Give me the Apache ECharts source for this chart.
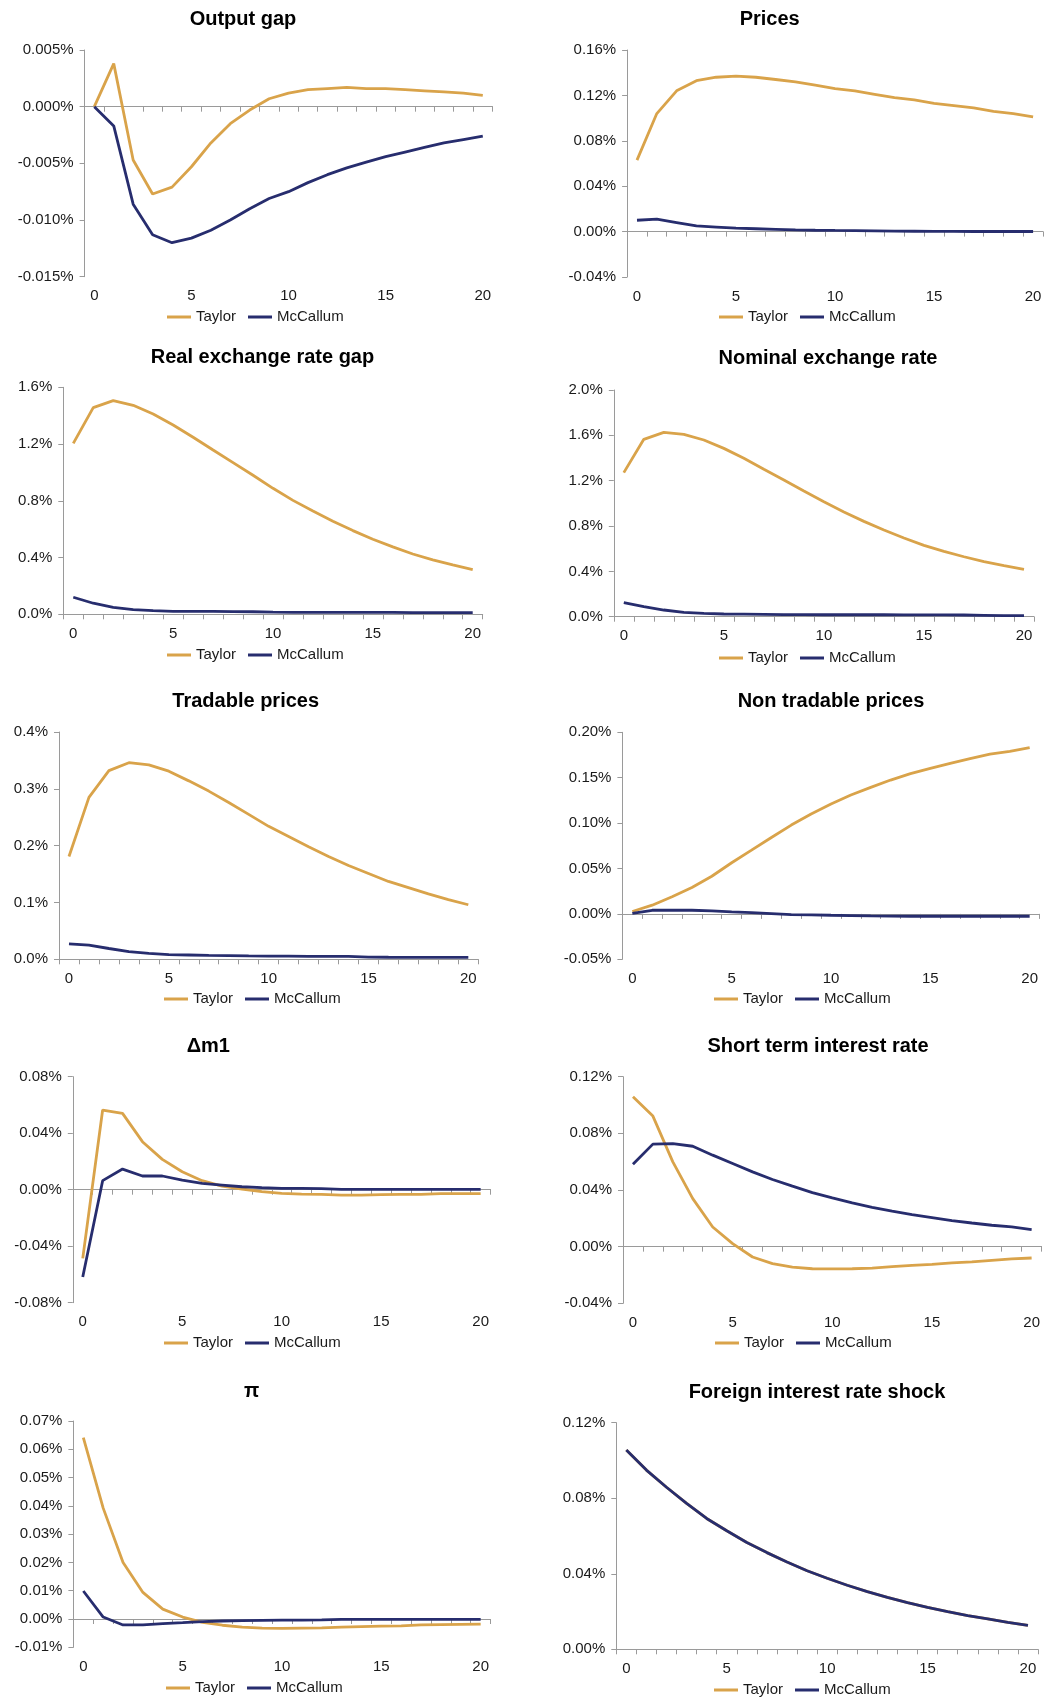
<!DOCTYPE html>
<html>
<head>
<meta charset="utf-8">
<script src="https://cdn.jsdelivr.net/npm/echarts@6/dist/echarts.min.js"></script>
<style>
  html, body { margin: 0; padding: 0; background: #ffffff; }
  #chart { width: 1046px; height: 1700px; }
</style>
</head>
<body>
<div id="chart"></div>
<script>
// Quarters after the shock
const periods = ['0','1','2','3','4','5','6','7','8','9','10','11','12','13','14','15','16','17','18','19','20'];

// Impulse responses (percent deviation) under the two policy rules
const outputGapTaylor    = [0, 0.0038, -0.0047, -0.0077, -0.0071, -0.0053, -0.0032, -0.0015, -0.0003, 0.0007, 0.0012, 0.0015, 0.0016, 0.0017, 0.0016, 0.0016, 0.0015, 0.0014, 0.0013, 0.0012, 0.0010];
const outputGapMcCallum  = [0, -0.0017, -0.0086, -0.0113, -0.0120, -0.0116, -0.0109, -0.0100, -0.0090, -0.0081, -0.0075, -0.0067, -0.0060, -0.0054, -0.0049, -0.0044, -0.0040, -0.0036, -0.0032, -0.0029, -0.0026];

const pricesTaylor       = [0.063, 0.104, 0.124, 0.133, 0.136, 0.137, 0.136, 0.134, 0.132, 0.129, 0.126, 0.124, 0.121, 0.118, 0.116, 0.113, 0.111, 0.109, 0.106, 0.104, 0.101];
const pricesMcCallum     = [0.010, 0.011, 0.008, 0.005, 0.004, 0.003, 0.0025, 0.002, 0.0015, 0.0012, 0.001, 0.0009, 0.0007, 0.0004, 0.0003, 0.0002, 0.0002, 0.0001, 0.0001, 0.0001, 0.0001];

const realExTaylor       = [1.205, 1.457, 1.506, 1.473, 1.412, 1.334, 1.248, 1.158, 1.069, 0.980, 0.888, 0.803, 0.728, 0.656, 0.590, 0.529, 0.475, 0.425, 0.383, 0.348, 0.315];
const realExMcCallum     = [0.120, 0.078, 0.049, 0.033, 0.026, 0.021, 0.021, 0.020, 0.019, 0.018, 0.015, 0.014, 0.014, 0.013, 0.013, 0.013, 0.013, 0.012, 0.012, 0.012, 0.012];

const nominalExTaylor    = [1.271, 1.565, 1.626, 1.609, 1.559, 1.485, 1.397, 1.300, 1.206, 1.109, 1.015, 0.924, 0.841, 0.765, 0.694, 0.629, 0.576, 0.529, 0.485, 0.450, 0.418];
const nominalExMcCallum  = [0.124, 0.088, 0.059, 0.038, 0.029, 0.024, 0.023, 0.021, 0.018, 0.018, 0.017, 0.017, 0.017, 0.017, 0.016, 0.016, 0.016, 0.015, 0.012, 0.009, 0.009];

const tradableTaylor     = [0.181, 0.285, 0.332, 0.346, 0.342, 0.331, 0.314, 0.296, 0.276, 0.255, 0.234, 0.216, 0.198, 0.181, 0.165, 0.151, 0.137, 0.126, 0.115, 0.105, 0.096];
const tradableMcCallum   = [0.027, 0.025, 0.019, 0.0135, 0.0106, 0.0082, 0.0076, 0.007, 0.0065, 0.006, 0.0057, 0.0055, 0.0053, 0.0051, 0.005, 0.0038, 0.0036, 0.0035, 0.0035, 0.0034, 0.0034];

const nonTradableTaylor   = [0.0026, 0.0096, 0.0188, 0.029, 0.0415, 0.0563, 0.0702, 0.0842, 0.0978, 0.110, 0.121, 0.131, 0.1393, 0.1474, 0.1544, 0.1603, 0.1658, 0.171, 0.176, 0.179, 0.1831];
const nonTradableMcCallum = [0.0007, 0.004, 0.004, 0.004, 0.0033, 0.0022, 0.0015, 0.0004, -0.0007, -0.0011, -0.0015, -0.0018, -0.0022, -0.0025, -0.0026, -0.0026, -0.0026, -0.0026, -0.0026, -0.0026, -0.0026];

const m1Taylor           = [-0.0486, 0.0564, 0.054, 0.034, 0.0215, 0.0127, 0.0064, 0.0026, 0.0005, -0.0014, -0.0026, -0.0031, -0.0033, -0.0038, -0.0038, -0.0035, -0.0033, -0.0033, -0.0028, -0.0028, -0.0028];
const m1McCallum         = [-0.0618, 0.0064, 0.0146, 0.0097, 0.0097, 0.0068, 0.0045, 0.0033, 0.0021, 0.0014, 0.0009, 0.0009, 0.0007, 0.0002, 0.0002, 0.0002, 0.0002, 0.0002, 0.0002, 0.0002, 0.0002];

const shortRateTaylor    = [0.1058, 0.0922, 0.0599, 0.0339, 0.0139, 0.0021, -0.0073, -0.012, -0.0144, -0.0156, -0.0157, -0.0156, -0.0151, -0.0141, -0.0132, -0.0125, -0.0115, -0.0108, -0.0097, -0.0087, -0.008];
const shortRateMcCallum  = [0.0582, 0.0724, 0.0728, 0.0709, 0.0646, 0.0587, 0.0528, 0.0474, 0.0427, 0.0382, 0.0344, 0.0309, 0.0278, 0.025, 0.0226, 0.0205, 0.0184, 0.0167, 0.0151, 0.0139, 0.012];

const piTaylor           = [0.0641, 0.0392, 0.020, 0.0094, 0.0035, 0.0007, -0.0012, -0.0022, -0.0029, -0.0032, -0.0033, -0.0032, -0.0031, -0.0029, -0.0027, -0.0025, -0.0024, -0.0021, -0.002, -0.0019, -0.0018];
const piMcCallum         = [0.0099, 0.0007, -0.0021, -0.0021, -0.0016, -0.0013, -0.0009, -0.0007, -0.0006, -0.0005, -0.0004, -0.0004, -0.0003, -0.0001, -0.0001, -0.0001, -0.0001, -0.0001, -0.0001, -0.0001, -0.0001];

const foreignRateTaylor   = [0.1055, 0.0949, 0.0858, 0.0773, 0.0693, 0.0628, 0.0566, 0.0512, 0.0462, 0.0416, 0.0376, 0.0339, 0.0305, 0.0275, 0.0247, 0.0222, 0.0199, 0.0178, 0.0161, 0.0143, 0.0127];
const foreignRateMcCallum = [0.1055, 0.0949, 0.0858, 0.0773, 0.0693, 0.0628, 0.0566, 0.0512, 0.0462, 0.0416, 0.0376, 0.0339, 0.0305, 0.0275, 0.0247, 0.0222, 0.0199, 0.0178, 0.0161, 0.0143, 0.0127];

// Panel titles
const panelTitles = ['Output gap', 'Prices', 'Real exchange rate gap', 'Nominal exchange rate',
  'Tradable prices', 'Non tradable prices', '\u0394m1', 'Short term interest rate', '\u03c0', 'Foreign interest rate shock'];

// Value-axis ranges: [min, max, step, decimals]
const yScales = [
  [-0.015, 0.005, 0.005, 3],
  [-0.04, 0.16, 0.04, 2],
  [0, 1.6, 0.4, 1],
  [0, 2.0, 0.4, 1],
  [0, 0.4, 0.1, 1],
  [-0.05, 0.20, 0.05, 2],
  [-0.08, 0.08, 0.04, 2],
  [-0.04, 0.12, 0.04, 2],
  [-0.01, 0.07, 0.01, 2],
  [0, 0.12, 0.04, 2]
];

const seriesPairs = [
  [outputGapTaylor, outputGapMcCallum],
  [pricesTaylor, pricesMcCallum],
  [realExTaylor, realExMcCallum],
  [nominalExTaylor, nominalExMcCallum],
  [tradableTaylor, tradableMcCallum],
  [nonTradableTaylor, nonTradableMcCallum],
  [m1Taylor, m1McCallum],
  [shortRateTaylor, shortRateMcCallum],
  [piTaylor, piMcCallum],
  [foreignRateTaylor, foreignRateMcCallum]
];

// Page layout of each panel: plot box [left, top, right, bottom], title centre, legend anchor
const layout = [
  { box: [84.6, 50, 492.5, 276.7],     title: [243, 20],     legend: [167, 317] },
  { box: [627.1, 50, 1043, 277],       title: [769.7, 20],   legend: [719, 317] },
  { box: [63.3, 387.3, 482.7, 614.3],  title: [262.5, 358],  legend: [167, 655] },
  { box: [613.8, 390, 1034, 616.7],    title: [828, 359],    legend: [719, 658] },
  { box: [59, 732, 478.3, 959.3],      title: [245.7, 701.7], legend: [164, 999] },
  { box: [622.4, 732.3, 1039.6, 959.3], title: [831, 701.7], legend: [714, 999] },
  { box: [72.8, 1076.7, 490.6, 1302.7], title: [208.3, 1046.7], legend: [164, 1343] },
  { box: [623, 1076.7, 1041.6, 1303.3], title: [818, 1046.7], legend: [715, 1343] },
  { box: [73.4, 1421, 490.6, 1647.3],  title: [251.7, 1391.7], legend: [166, 1688] },
  { box: [616.3, 1422.7, 1038, 1649.3], title: [817, 1392.7], legend: [714, 1690] }
];

const FONT = '"Liberation Sans", Arial, Helvetica, sans-serif';
const TAYLOR_COLOR = '#D9A34A';
const MCCALLUM_COLOR = '#272D6E';
const AXIS_COLOR = '#9a9a9a';
const TEXT_COLOR = '#1a1a1a';

const option = {
  animation: false,
  backgroundColor: '#ffffff',
  title: [], legend: [], grid: [], xAxis: [], yAxis: [], series: []
};

layout.forEach((p, i) => {
  const [left, top, right, bottom] = p.box;
  const [yMin, yMax, yStep, dec] = yScales[i];

  option.title.push({
    text: panelTitles[i],
    left: p.title[0], top: p.title[1] - 10.5,
    textAlign: 'center', padding: 0,
    textStyle: { fontFamily: FONT, fontSize: 20, fontWeight: 'bold', color: '#000000' }
  });

  option.legend.push({
    data: ['Taylor', 'McCallum'],
    left: p.legend[0], top: p.legend[1] - 7.5,
    padding: 0, icon: 'rect', itemWidth: 24, itemHeight: 3, itemGap: 12,
    selectedMode: false,
    textStyle: { fontFamily: FONT, fontSize: 15, color: TEXT_COLOR }
  });

  option.grid.push({
    left: left, top: top, width: right - left, height: bottom - top,
    containLabel: false, outerBoundsMode: 'none'
  });

  // axis line through zero with a tick at every period boundary
  option.xAxis.push({
    type: 'category', gridIndex: i, data: periods, boundaryGap: true, position: 'bottom',
    axisLine: { show: true, onZero: true, lineStyle: { color: AXIS_COLOR, width: 1 } },
    axisTick: { show: true, interval: 0, length: 5, inside: false, lineStyle: { color: AXIS_COLOR, width: 1 } },
    axisLabel: { show: false },
    splitLine: { show: false }
  });
  // period labels along the bottom edge of the plot
  option.xAxis.push({
    type: 'category', gridIndex: i, data: periods, boundaryGap: true, position: 'bottom',
    axisLine: { show: false, onZero: false },
    axisTick: { show: false },
    axisLabel: { show: true, interval: 4, margin: 12, fontFamily: FONT, fontSize: 15, color: TEXT_COLOR },
    splitLine: { show: false }
  });

  option.yAxis.push({
    type: 'value', gridIndex: i, min: yMin, max: yMax, interval: yStep,
    axisLine: { show: true, lineStyle: { color: AXIS_COLOR, width: 1 } },
    axisTick: { show: true, length: 5, inside: false, lineStyle: { color: AXIS_COLOR, width: 1 } },
    splitLine: { show: false },
    axisLabel: {
      margin: 11, fontFamily: FONT, fontSize: 15, color: TEXT_COLOR,
      formatter: v => (Math.abs(v) < 1e-12 ? 0 : v).toFixed(dec) + '%'
    }
  });

  const [taylor, mccallum] = seriesPairs[i];
  option.series.push({
    name: 'Taylor', type: 'line', xAxisIndex: 2 * i, yAxisIndex: i, data: taylor,
    symbol: 'none', smooth: false,
    lineStyle: { color: TAYLOR_COLOR, width: 2.8 }, itemStyle: { color: TAYLOR_COLOR }
  });
  option.series.push({
    name: 'McCallum', type: 'line', xAxisIndex: 2 * i, yAxisIndex: i, data: mccallum,
    symbol: 'none', smooth: false,
    lineStyle: { color: MCCALLUM_COLOR, width: 2.8 }, itemStyle: { color: MCCALLUM_COLOR }
  });
});

const chart = echarts.init(document.getElementById('chart'), null, { renderer: 'canvas' });
chart.setOption(option);
</script>
</body>
</html>
